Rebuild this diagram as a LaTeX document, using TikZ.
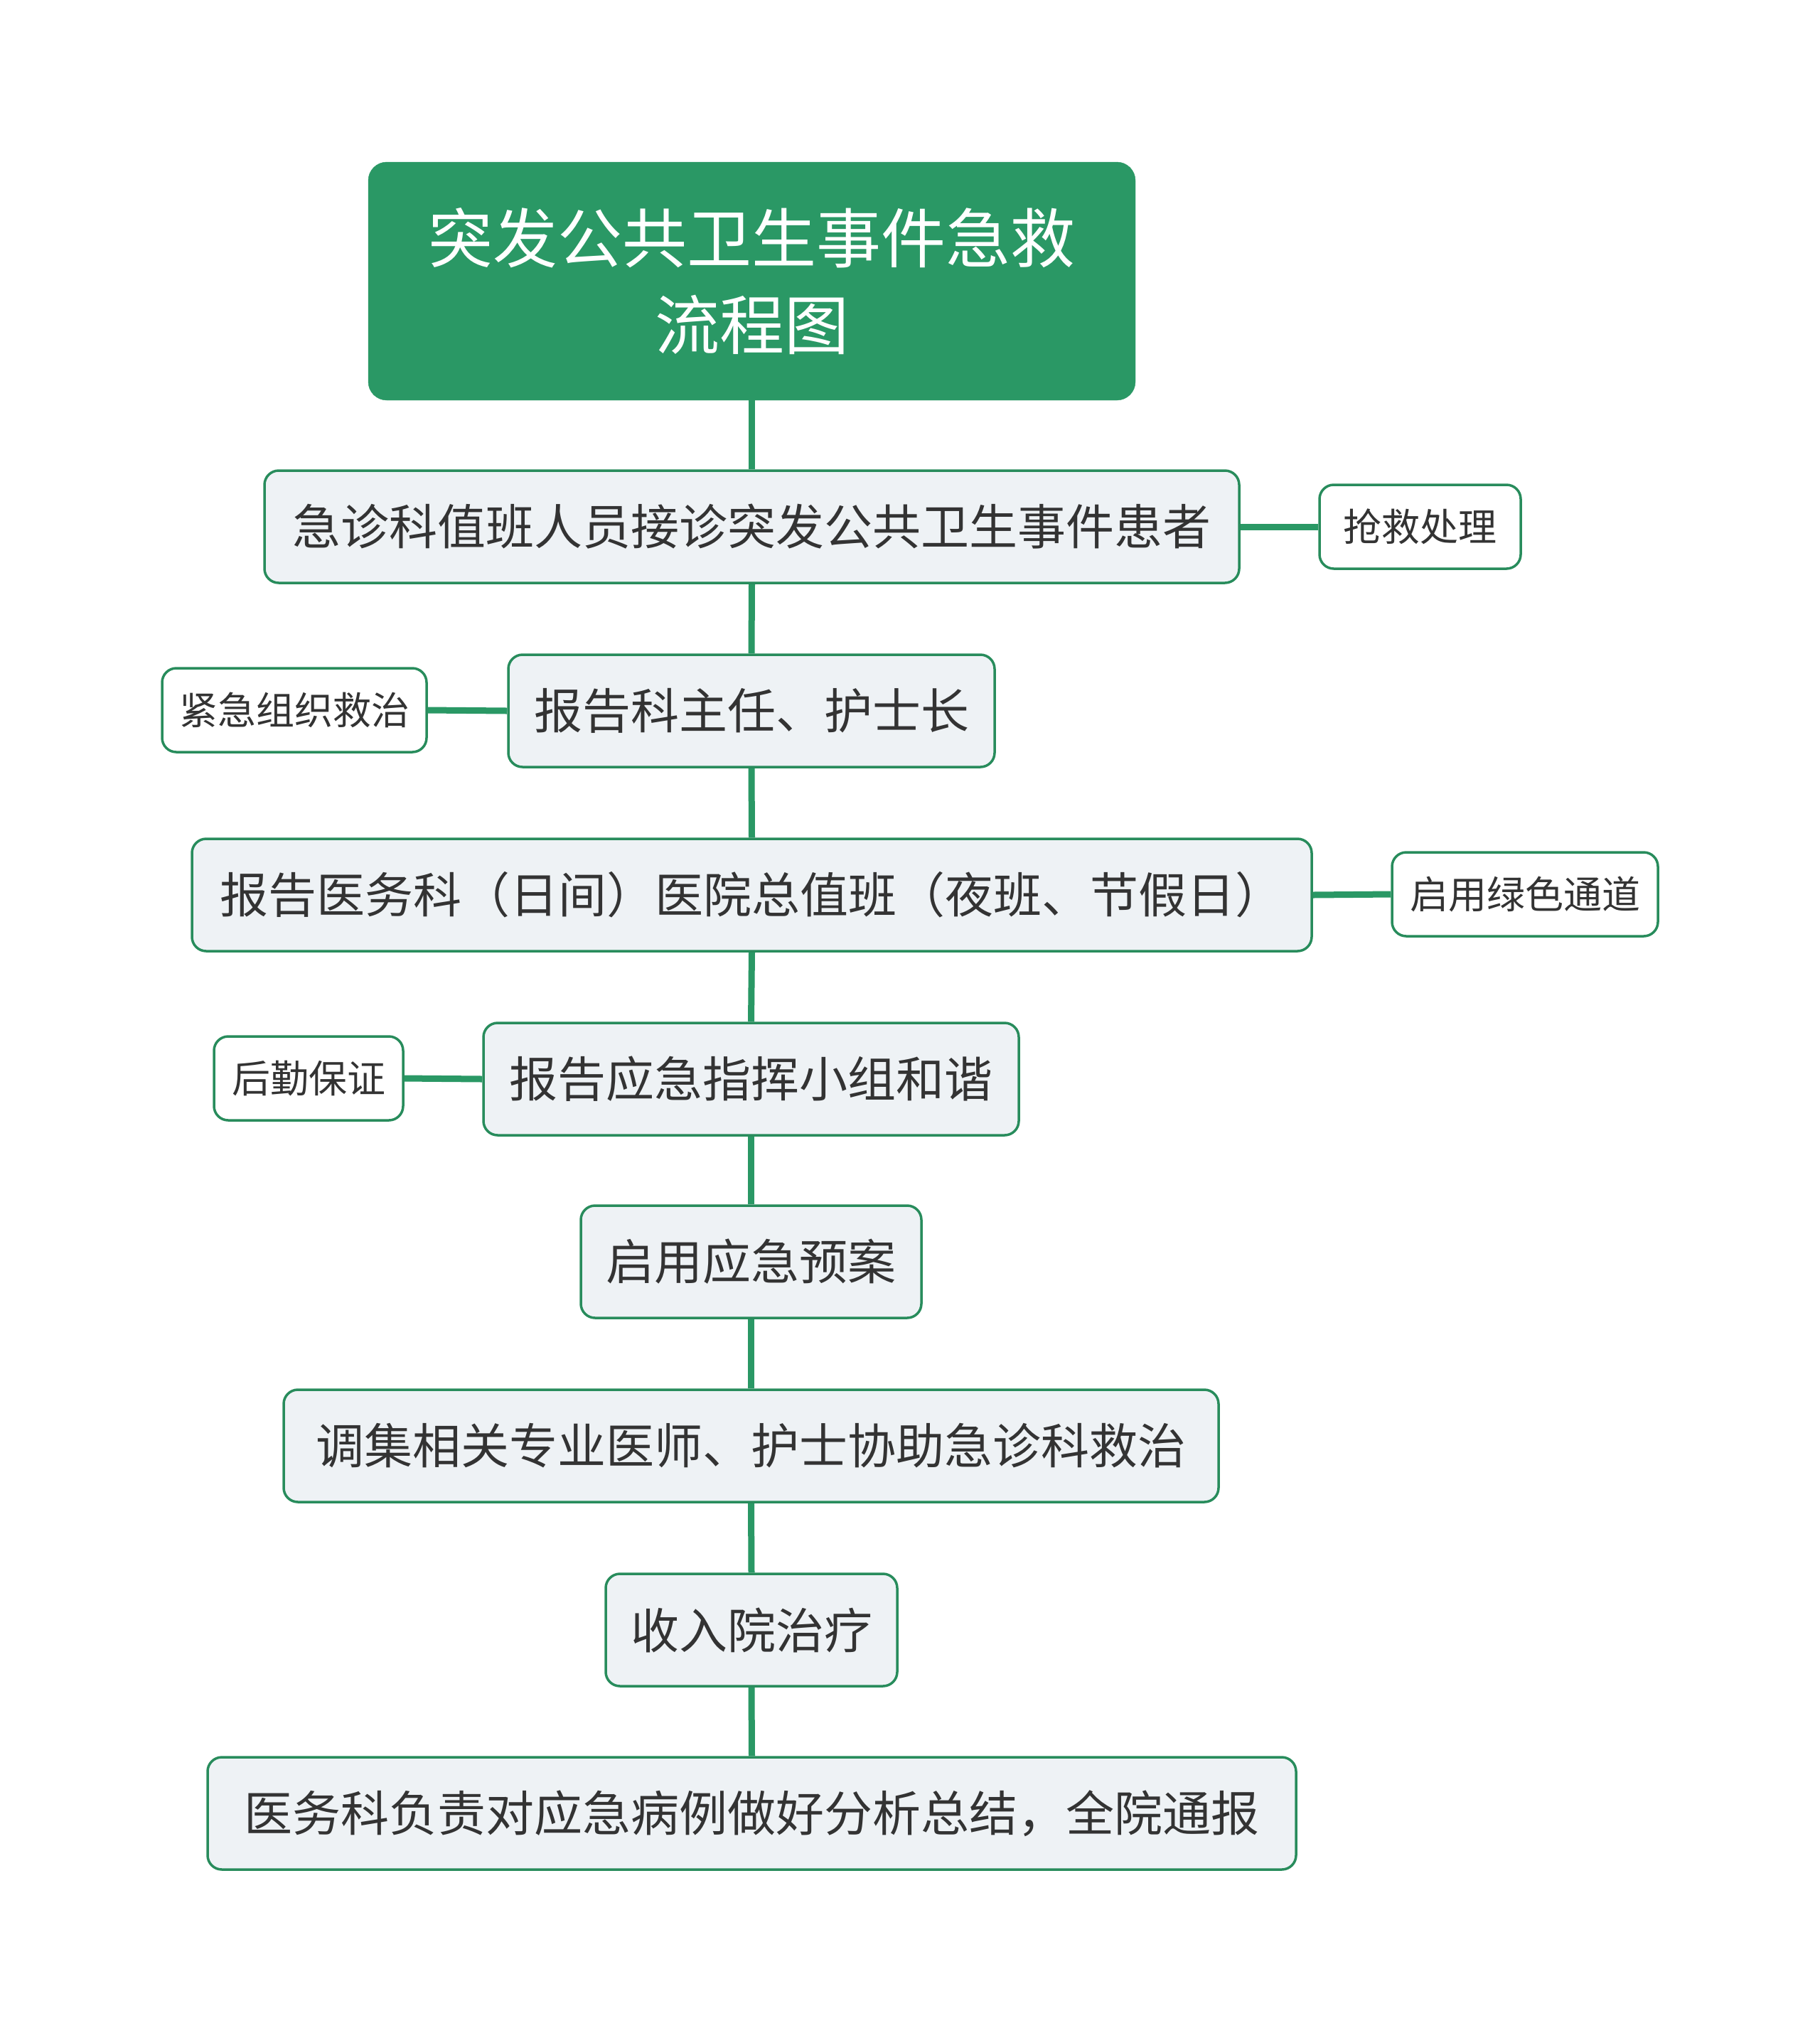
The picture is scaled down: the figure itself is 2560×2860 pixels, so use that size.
\documentclass[tikz,border=0pt]{standalone}
\usepackage{fontspec}
\newfontfamily\cjk{Noto Sans CJK SC}
\definecolor{gr}{RGB}{42,152,101}
\definecolor{bordergr}{RGB}{40,140,92}
\definecolor{nodefill}{RGB}{238,242,245}
\definecolor{txt}{RGB}{51,51,51}
\begin{document}
\begin{tikzpicture}[x=1pt,y=-1pt,
  titlebox/.style={draw=gr,fill=gr,rounded corners=26pt,inner sep=0pt,
    text=white,font=\cjk\fontsize{91}{122}\selectfont,align=center},
  mainbox/.style={draw=bordergr,line width=3.5pt,fill=nodefill,rounded corners=20pt,
    inner sep=0pt,minimum height=158pt,text=txt,font=\cjk\fontsize{68}{80}\selectfont},
  sidebox/.style={draw=bordergr,line width=3.5pt,fill=white,rounded corners=20pt,
    inner sep=0pt,minimum height=118pt,text=txt,font=\cjk\fontsize{54}{64}\selectfont},
  link/.style={draw=gr,line width=9pt}]
\useasboundingbox (0,0) rectangle (2560,2860);
\node[titlebox,minimum width=1079pt,minimum height=335pt] (t) at (1057.5,395.5)
  {突发公共卫生事件急救\\流程图};
\node[mainbox,minimum width=1371pt] (n1) at (1057.5,741) {急诊科值班人员接诊突发公共卫生事件患者};
\node[mainbox,minimum width=684pt] (n2) at (1057,1000) {报告科主任、护士长};
\node[mainbox,minimum width=1575pt] (n3) at (1057.5,1259) {报告医务科（日间）医院总值班（夜班、节假日）};
\node[mainbox,minimum width=753pt] (n4) at (1056.5,1518) {报告应急指挥小组和谐};
\node[mainbox,minimum width=479pt] (n5) at (1056.5,1775) {启用应急预案};
\node[mainbox,minimum width=1315pt] (n6) at (1056.5,2034) {调集相关专业医师、护士协助急诊科救治};
\node[mainbox,minimum width=410pt] (n7) at (1057,2293) {收入院治疗};
\node[mainbox,minimum width=1531pt] (n8) at (1057.5,2551) {医务科负责对应急病例做好分析总结，全院通报};
\node[sidebox,minimum width=283pt] (s1) at (1997.5,741) {抢救处理};
\node[sidebox,minimum width=372pt] (s2) at (414,999) {紧急组织救治};
\node[sidebox,minimum width=374pt] (s3) at (2145,1258) {启用绿色通道};
\node[sidebox,minimum width=266pt] (s4) at (434,1517) {后勤保证};
\draw[link] (t.south) -- (n1.north);
\draw[link] (n1.south) -- (n2.north);
\draw[link] (n2.south) -- (n3.north);
\draw[link] (n3.south) -- (n4.north);
\draw[link] (n4.south) -- (n5.north);
\draw[link] (n5.south) -- (n6.north);
\draw[link] (n6.south) -- (n7.north);
\draw[link] (n7.south) -- (n8.north);
\draw[link] (n1.east) -- (s1.west);
\draw[link] (n2.west) -- (s2.east);
\draw[link] (n3.east) -- (s3.west);
\draw[link] (n4.west) -- (s4.east);
\end{tikzpicture}
\end{document}
